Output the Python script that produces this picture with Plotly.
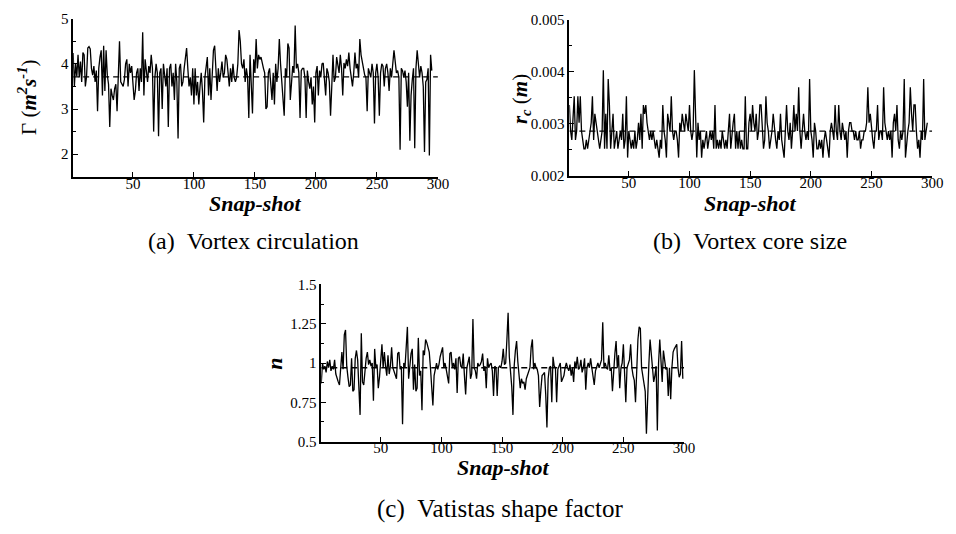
import plotly.graph_objects as go

# ---------------- data ----------------
# (a) vortex circulation per snapshot [m^2/s]
circulation = [
    4.24, 3.50, 4.00, 3.72, 4.20, 3.70, 4.05, 3.60, 4.25, 4.20,
    3.50, 3.72, 4.35, 4.38, 4.33, 3.90, 3.75, 3.95, 3.60, 3.85,
    2.95, 3.90, 4.15, 4.30, 3.30, 4.40, 3.40, 4.30, 3.75, 3.55,
    2.60, 3.45, 3.30, 3.20, 3.45, 3.55, 2.95, 3.80, 4.50, 3.60,
    3.55, 3.50, 3.65, 4.00, 4.10, 3.50, 4.00, 3.80, 3.95, 3.55,
    3.20, 3.40, 3.80, 3.90, 3.40, 3.90, 3.60, 4.70, 3.30, 4.10,
    3.80, 3.60, 3.95, 3.80, 4.20, 3.90, 2.50, 3.70, 4.00, 3.80,
    2.40, 3.80, 3.90, 3.00, 4.00, 3.70, 3.50, 3.90, 2.60, 3.90,
    4.00, 3.50, 3.80, 3.20, 4.00, 3.60, 2.35, 3.90, 4.00, 3.50,
    3.60, 3.90, 4.10, 4.35, 3.90, 3.50, 3.70, 3.30, 3.90, 3.10,
    3.90, 3.30, 3.60, 3.10, 3.50, 3.80, 3.40, 2.70, 3.70, 3.90,
    4.15, 3.30, 3.90, 3.20, 3.80, 4.30, 4.40, 4.00, 3.40, 3.90,
    3.60, 3.80, 4.05, 3.70, 3.80, 4.20, 4.10, 3.80, 3.50, 3.90,
    3.60, 4.00, 3.70, 3.60, 3.70, 4.00, 4.75, 4.50, 4.00, 3.90,
    4.10, 3.60, 3.90, 3.70, 2.80, 4.20, 3.70, 2.90, 4.10, 3.80,
    4.55, 3.90, 4.20, 4.10, 4.15, 4.00, 3.90, 3.80, 3.00, 3.05,
    3.80, 3.90, 3.60, 3.20, 3.80, 3.10, 4.00, 3.60, 3.90, 4.55,
    4.00, 3.60, 3.30, 2.85, 3.90, 3.70, 4.45, 4.35, 3.20, 3.70,
    3.95, 3.80, 4.85, 3.90, 4.00, 3.80, 2.80, 3.85, 3.90, 3.90,
    3.70, 2.80, 3.85, 3.60, 3.45, 3.70, 3.10, 3.50, 2.70, 3.80,
    3.95, 3.30, 3.85, 3.70, 4.00, 4.02, 3.60, 3.30, 3.90, 3.80,
    3.60, 2.85, 3.50, 4.20, 3.60, 3.70, 4.15, 4.00, 3.80, 4.20,
    3.90, 3.30, 4.02, 3.90, 4.10, 3.95, 4.25, 3.90, 3.70, 3.50,
    3.80, 4.25, 3.90, 4.00, 3.70, 4.55, 4.20, 4.00, 3.90, 3.75,
    3.70, 2.95, 3.90, 3.80, 3.70, 4.00, 3.80, 2.68, 3.80, 4.00,
    3.70, 2.85, 3.80, 4.00, 3.95, 3.50, 3.90, 4.00, 3.80, 3.40,
    3.90, 3.70, 4.05, 4.30, 4.05, 3.80, 3.85, 3.70, 2.10, 3.90,
    3.85, 3.70, 3.85, 3.60, 3.05, 3.80, 2.30, 3.30, 3.65, 3.90,
    2.13, 3.90, 4.30, 4.00, 3.70, 3.95, 3.80, 3.50, 2.05, 3.60,
    3.65, 3.90, 1.97, 4.20, 3.85,
]
circulation_mean = 3.71

# (b) vortex core radius per snapshot [m]
core_radius = [
    0.00336, 0.00286, 0.00269, 0.00302, 0.00353, 0.00269, 0.00286, 0.00353, 0.00302, 0.00353,
    0.00286, 0.00269, 0.00252, 0.00252, 0.00269, 0.00252, 0.00269, 0.00286, 0.00302, 0.00353,
    0.00269, 0.00319, 0.00302, 0.00286, 0.00269, 0.00252, 0.00269, 0.00286, 0.00403, 0.00252,
    0.00319, 0.00252, 0.00386, 0.00336, 0.00252, 0.00286, 0.00319, 0.00252, 0.00269, 0.00286,
    0.00252, 0.00269, 0.00286, 0.00269, 0.00319, 0.00252, 0.00269, 0.00353, 0.00235, 0.00286,
    0.00269, 0.00252, 0.00269, 0.00252, 0.00286, 0.00252, 0.00269, 0.00302, 0.00269, 0.00319,
    0.00252, 0.00336, 0.00319, 0.00336, 0.00302, 0.00286, 0.00269, 0.00286, 0.00269, 0.00286,
    0.00269, 0.00252, 0.00269, 0.00252, 0.00235, 0.00269, 0.00252, 0.00336, 0.00286, 0.00269,
    0.00235, 0.00319, 0.00302, 0.00286, 0.00353, 0.00286, 0.00269, 0.00286, 0.00286, 0.00269,
    0.00235, 0.00302, 0.00286, 0.00319, 0.00302, 0.00286, 0.00319, 0.00302, 0.00286, 0.00336,
    0.00286, 0.00269, 0.00286, 0.00403, 0.00302, 0.00235, 0.00302, 0.00269, 0.00286, 0.00235,
    0.00269, 0.00252, 0.00269, 0.00286, 0.00252, 0.00269, 0.00286, 0.00269, 0.00286, 0.00252,
    0.00336, 0.00252, 0.00269, 0.00252, 0.00269, 0.00252, 0.00286, 0.00269, 0.00252, 0.00269,
    0.00252, 0.00286, 0.00319, 0.00252, 0.00286, 0.00302, 0.00319, 0.00252, 0.00286, 0.00252,
    0.00286, 0.00252, 0.00269, 0.00252, 0.00252, 0.00353, 0.00252, 0.00252, 0.00302, 0.00319,
    0.00286, 0.00336, 0.00302, 0.00286, 0.00319, 0.00269, 0.00286, 0.00336, 0.00336, 0.00286,
    0.00252, 0.00269, 0.00353, 0.00302, 0.00286, 0.00252, 0.00269, 0.00286, 0.00319, 0.00286,
    0.00269, 0.00252, 0.00286, 0.00269, 0.00319, 0.00269, 0.00252, 0.00235, 0.00286, 0.00336,
    0.00286, 0.00269, 0.00302, 0.00252, 0.00286, 0.00336, 0.00286, 0.00319, 0.00286, 0.00370,
    0.00286, 0.00252, 0.00286, 0.00319, 0.00286, 0.00269, 0.00286, 0.00269, 0.00386, 0.00286,
    0.00269, 0.00235, 0.00302, 0.00286, 0.00252, 0.00252, 0.00269, 0.00252, 0.00269, 0.00235,
    0.00269, 0.00286, 0.00269, 0.00252, 0.00235, 0.00286, 0.00302, 0.00286, 0.00269, 0.00336,
    0.00286, 0.00269, 0.00336, 0.00286, 0.00269, 0.00302, 0.00286, 0.00269, 0.00286, 0.00235,
    0.00286, 0.00302, 0.00302, 0.00286, 0.00286, 0.00269, 0.00286, 0.00269, 0.00269, 0.00286,
    0.00252, 0.00269, 0.00269, 0.00286, 0.00286, 0.00302, 0.00370, 0.00302, 0.00319, 0.00286,
    0.00269, 0.00252, 0.00286, 0.00286, 0.00336, 0.00269, 0.00286, 0.00286, 0.00269, 0.00370,
    0.00302, 0.00286, 0.00269, 0.00286, 0.00269, 0.00286, 0.00235, 0.00302, 0.00319, 0.00286,
    0.00336, 0.00269, 0.00252, 0.00286, 0.00269, 0.00286, 0.00386, 0.00235, 0.00269, 0.00286,
    0.00302, 0.00370, 0.00319, 0.00286, 0.00336, 0.00336, 0.00286, 0.00252, 0.00269, 0.00235,
    0.00286, 0.00269, 0.00386, 0.00269, 0.00286, 0.00302,
]
core_radius_mean = 0.00286

# (c) Vatistas shape factor per snapshot
shape_factor = [
    0.87, 1.00, 0.96, 0.98, 0.94, 1.01, 0.97, 1.02, 0.95, 0.98,
    0.96, 1.02, 0.93, 0.90, 0.88, 0.86, 0.99, 1.07, 0.96, 1.18,
    1.21, 0.98, 0.91, 0.85, 0.86, 1.03, 0.82, 0.83, 1.03, 1.08,
    1.02, 0.86, 0.67, 1.19, 0.88, 0.86, 0.97, 1.03, 1.07, 0.99,
    1.02, 0.98, 1.00, 0.76, 1.09, 0.97, 0.99, 0.84, 0.91, 1.00,
    1.12, 0.97, 1.07, 0.98, 0.92, 1.05, 0.93, 0.98, 1.10, 0.97,
    0.95, 0.92, 0.90, 1.06, 1.07, 0.96, 0.98, 0.61, 1.00, 0.97,
    1.07, 1.23, 0.90, 1.00, 1.06, 1.09, 0.83, 0.99, 0.82, 0.84,
    1.16, 0.92, 0.95, 0.70, 1.08, 1.05, 1.15, 1.13, 1.10, 1.07,
    0.97, 0.80, 0.73, 0.92, 0.97, 1.00, 0.96, 0.99, 1.04, 1.07,
    1.10, 0.97, 1.00, 0.96, 0.90, 0.87, 1.06, 1.07, 0.97, 1.00,
    0.96, 1.03, 0.81, 1.03, 1.04, 0.98, 0.97, 1.06, 0.92, 0.80,
    0.97, 1.00, 1.04, 0.90, 0.93, 1.28, 0.97, 0.95, 0.90, 1.00,
    0.98, 0.99, 1.01, 1.06, 0.95, 0.98, 0.84, 1.03, 0.97, 0.99,
    1.00, 0.95, 0.79, 0.98, 0.97, 0.79, 0.97, 0.98, 0.97, 1.01,
    1.09, 0.99, 1.00, 1.15, 1.32, 1.04, 0.94, 0.85, 0.67, 0.98,
    1.08, 1.14, 1.01, 0.94, 0.84, 0.90, 0.87, 0.88, 0.83, 0.90,
    0.92, 0.95, 0.97, 1.10, 1.15, 0.96, 1.00, 0.97, 0.96, 0.92,
    0.72, 0.83, 0.92, 0.93, 0.94, 0.80, 0.59, 0.90, 0.97, 0.98,
    0.75, 1.04, 0.98, 0.97, 0.75, 0.96, 0.98, 1.00, 0.88, 0.90,
    0.92, 0.97, 1.00, 0.97, 0.95, 0.99, 0.92, 0.97, 0.88, 1.01,
    0.97, 1.04, 0.96, 0.97, 1.02, 0.94, 0.97, 1.03, 0.83, 0.97,
    1.00, 0.97, 1.03, 0.97, 0.92, 0.86, 0.95, 0.97, 1.00, 0.97,
    0.99, 1.02, 1.26, 0.97, 1.00, 0.97, 0.96, 1.05, 0.95, 0.97,
    0.82, 0.99, 1.06, 1.14, 0.97, 1.05, 0.84, 0.97, 1.00, 1.12,
    0.96, 0.75, 0.97, 1.00, 1.02, 1.12, 0.97, 0.92, 0.89, 0.75,
    0.97, 1.15, 1.23, 1.22, 0.97, 0.92, 0.88, 0.82, 0.55, 0.82,
    0.99, 1.15, 1.06, 0.97, 0.88, 0.92, 0.98, 0.57, 1.00, 1.15,
    0.97, 0.88, 1.08, 1.00, 0.96, 0.97, 0.79, 0.97, 0.77, 0.97,
    1.07, 1.09, 1.11, 1.12, 0.97, 0.91, 0.93, 1.14, 0.90,
]
shape_factor_mean = 0.97

snapshot_range = [1, 300]
x_tickvals = [50, 100, 150, 200, 250, 300]

# ---------------- figure ----------------
W, H = 956, 534
FONT = "Liberation Serif"


def px_x(p):
    return p / W


def px_y(p):
    return 1 - p / H


fig = go.Figure()

panels = [
    ("x", "y", circulation, circulation_mean),
    ("x2", "y2", core_radius, core_radius_mean),
    ("x3", "y3", shape_factor, shape_factor_mean),
]
for xa, ya, series, mean in panels:
    snaps = list(range(1, len(series) + 1))
    fig.add_trace(go.Scatter(
        x=snaps, y=series, mode="lines", xaxis=xa, yaxis=ya,
        line=dict(color="black", width=1.3), showlegend=False, hoverinfo="skip"))
    fig.add_trace(go.Scatter(
        x=snapshot_range, y=[mean, mean], mode="lines", xaxis=xa, yaxis=ya,
        line=dict(color="black", width=1.3, dash="6px,4px"),
        showlegend=False, hoverinfo="skip"))

tick_font = dict(family=FONT, size=15, color="black")
common_x = dict(
    range=snapshot_range, tickvals=x_tickvals, ticks="inside", ticklen=5,
    tickwidth=1, tickcolor="black", showline=True, linecolor="black",
    linewidth=1.5, showgrid=False, zeroline=False, mirror=False,
    tickfont=tick_font, ticklabelstandoff=-8,
)
common_y = dict(
    ticks="inside", ticklen=5, tickwidth=1, tickcolor="black",
    showline=True, linecolor="black", linewidth=1.5, showgrid=False,
    zeroline=False, mirror=False, tickfont=tick_font, ticklabelstandoff=0,
)

fig.update_layout(
    width=W, height=H, margin=dict(l=0, r=0, t=0, b=0),
    paper_bgcolor="white", plot_bgcolor="rgba(0,0,0,0)",
    xaxis=dict(common_x, domain=[px_x(74), px_x(443)], anchor="y"),
    yaxis=dict(common_y, domain=[px_y(174), px_y(11)], anchor="x",
               range=[1.5, 5], tickvals=[2, 3, 4, 5],
               minor=dict(ticks="inside", ticklen=3, dtick=0.5, tickcolor="black")),
    xaxis2=dict(common_x, domain=[px_x(576), px_x(943)], anchor="y2"),
    yaxis2=dict(common_y, domain=[px_y(173), px_y(12)], anchor="x2",
                range=[0.002, 0.005], tickvals=[0.002, 0.003, 0.004, 0.005],
                ticktext=["0.002", "0.003", "0.004", "0.005"],
                minor=dict(ticks="inside", ticklen=3, dtick=0.0005, tickcolor="black")),
    xaxis3=dict(common_x, domain=[px_x(325), px_x(692)], anchor="y3"),
    yaxis3=dict(common_y, domain=[px_y(447), px_y(285)], anchor="x3",
                range=[0.5, 1.5], tickvals=[0.5, 0.75, 1, 1.25, 1.5],
                ticktext=["0.5", "0.75", "1", "1.25", "1.5"],
                minor=dict(ticks="inside", ticklen=3, dtick=0.125, tickcolor="black")),
)


def label(text, x, y, size, angle=0):
    fig.add_annotation(
        text=text, x=px_x(x), y=px_y(y), xref="paper", yref="paper",
        xanchor="center", yanchor="middle", showarrow=False, textangle=angle,
        font=dict(family=FONT, size=size, color="black"))


# axis titles
label("<b><i>Snap-shot</i></b>", 258, 202, 22)
label("<b><i>Snap-shot</i></b>", 759, 202, 22)
label("<b><i>Snap-shot</i></b>", 509, 474, 22)
label("Γ (<b><i>m</i></b><sup><b><i>2</i></b></sup><b><i>s</i></b><sup><b><i>-1</i></b></sup>)",
      28, 92, 21, -90)
label("<b><i>r</i></b><sub><b><i>c</i></b></sub> (<b><i>m</i></b>)", 527, 94, 21, -90)
label("<b><i>n</i></b>", 277, 367, 22, -90)

# panel captions
label("(a)\u00a0\u00a0Vortex circulation", 256, 240, 24)
label("(b)\u00a0\u00a0Vortex core size", 759, 240, 24)
label("(c)\u00a0\u00a0Vatistas shape factor", 506, 516, 25)

fig.write_html("out.html")
